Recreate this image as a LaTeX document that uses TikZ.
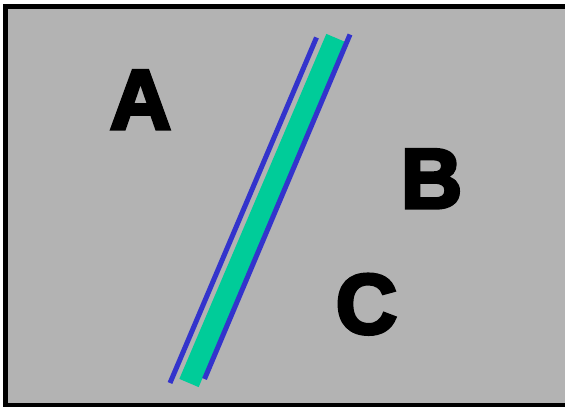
\documentclass[tikz,border=0pt]{standalone}
\usepackage{fontspec}
\usepackage{xcolor}
\newfontfamily\letterfont{Liberation Sans}[BoldFeatures={FakeBold=4}]
\definecolor{plate}{HTML}{B3B3B3}
\definecolor{film}{HTML}{00CC99}
\definecolor{wire}{HTML}{3333CC}
\tikzset{
  region/.style={font=\letterfont\bfseries\fontsize{85}{85}\selectfont,
                 text=black, inner sep=0pt, anchor=base},
  wall/.style={draw=wire, line width=5pt, line cap=butt},
  band/.style={draw=film, line width=21pt, line cap=butt}
}
\begin{document}
\begin{tikzpicture}[x=1pt,y=1pt]
        \useasboundingbox (0,0) rectangle (565,407);
        \fill[plate] (5.6,1.5) rectangle (565,400.5);
        \draw[line width=4.8pt] (565,400.5) -- (5.6,400.5) -- (5.6,1.5) -- (565,1.5);

        % the strip and its two walls
        \coordinate (bandtop) at (336,369);
        \coordinate (bandbot) at (189,24);
        \draw[band] (bandtop) -- (bandbot);
        \draw[wall] (316.5,369.5) -- (170,24);
        \draw[wall] (350,372.5) -- (204.5,28);

        \node[region] (a) at (140.5,278) {A};
        \node[region] (b) at (431.5,199) {B};
        \node[region] (c) at (366.5,73.5) {C};
      \end{tikzpicture}
\end{document}
